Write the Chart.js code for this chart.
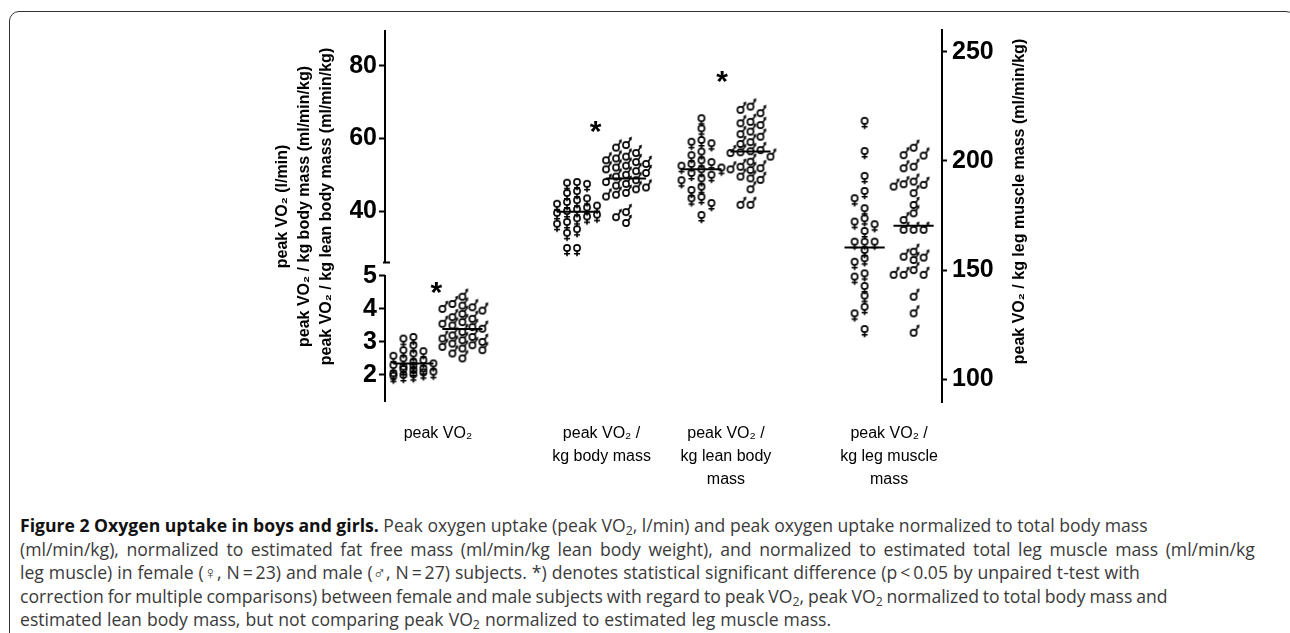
<!DOCTYPE html>
<html>
<head>
<meta charset="utf-8">
<script src="https://cdn.jsdelivr.net/npm/chart.js@4.4.0/dist/chart.umd.min.js"></script>
<style>
  html, body { margin: 0; padding: 0; background: #fff; }
  body { width: 1290px; height: 633px; overflow: hidden; position: relative; }
  #frame { position: absolute; left: 9px; top: 11px; width: 1287px; height: 700px;
           border: 1.5px solid #333; border-radius: 10px; box-sizing: border-box; }
  #wrap { position: absolute; left: 0; top: 0; width: 1290px; height: 500px; }
  #caption { position: absolute; left: 20px; top: 514px; font-family: 'Open Sans', sans-serif;
             font-size: 17.6px; line-height: 23.5px; color: #3a3a3a; white-space: nowrap; }
  #caption b { color: #111; }
  #caption sub { font-size: 70%; line-height: 0; vertical-align: -0.25em; }
</style>
</head>
<body>
<div id="frame"></div>
<div id="wrap"><canvas id="myChart"></canvas></div>
<div id="caption">
<span><b>Figure 2 Oxygen uptake in boys and girls.</b> Peak oxygen uptake (peak VO<sub>2</sub>, l/min) and peak oxygen uptake normalized to total body mass</span><br>
<span style="word-spacing:3px">(ml/min/kg), normalized to estimated fat free mass (ml/min/kg lean body weight), and normalized to estimated total leg muscle mass (ml/min/kg</span><br>
<span style="word-spacing:0.4px">leg muscle) in female (♀, N&thinsp;=&thinsp;23) and male (♂, N&thinsp;=&thinsp;27) subjects. *) denotes statistical significant difference (p&thinsp;&lt;&thinsp;0.05 by unpaired t-test with</span><br>
<span style="word-spacing:-0.7px">correction for multiple comparisons) between female and male subjects with regard to peak VO<sub>2</sub>, peak VO<sub>2</sub> normalized to total body mass and</span><br>
<span style="word-spacing:0.5px">estimated lean body mass, but not comparing peak VO<sub>2</sub> normalized to estimated leg muscle mass.</span>
</div>
<script>
// category labels (bottom)
const categories = [
  ['peak VO₂'],
  ['peak VO₂ /', 'kg body mass'],
  ['peak VO₂ /', 'kg lean body', 'mass'],
  ['peak VO₂ /', 'kg leg muscle', 'mass']
];

// values, girls (N=23) and boys (N=27)
const femalePeak = [3.15, 3.1, 2.9, 2.75, 2.72, 2.65, 2.58, 2.5, 2.45, 2.4, 2.35, 2.3, 2.28, 2.25, 2.2, 2.18, 2.15, 2.1, 2.08, 2.05, 2.02, 2.0, 1.98];
const malePeak = [4.37, 4.15, 4.1, 4.05, 4.0, 3.95, 3.85, 3.75, 3.7, 3.6, 3.55, 3.5, 3.45, 3.4, 3.3, 3.2, 3.15, 3.1, 3.05, 3.0, 2.95, 2.9, 2.85, 2.8, 2.75, 2.65, 2.5];
const femaleBody = [48.0, 47.5, 47.8, 45.5, 45.0, 43.5, 43.0, 42.5, 42.0, 41.5, 41.0, 40.5, 40.0, 39.5, 39.0, 38.5, 38.0, 37.0, 36.5, 35.0, 34.0, 29.8, 29.8];
const maleBody = [58.2, 57.5, 56.0, 55.0, 54.5, 54.0, 53.5, 53.0, 52.5, 52.0, 51.5, 51.0, 50.5, 50.0, 49.5, 48.5, 48.0, 47.5, 47.0, 46.5, 46.0, 45.0, 44.5, 44.0, 39.7, 38.3, 36.7];
const femaleLean = [65.6, 62.8, 59.6, 59.1, 58.7, 56.4, 55.4, 54.0, 53.5, 53.0, 52.5, 52.0, 51.5, 50.5, 50.0, 49.0, 48.5, 46.7, 45.8, 43.9, 43.5, 42.2, 38.9];
const maleLean = [68.8, 67.9, 67.0, 64.6, 64.2, 63.7, 61.9, 61.2, 60.5, 59.0, 58.5, 56.8, 56.5, 56.2, 56.0, 55.0, 53.6, 52.2, 51.8, 51.5, 51.3, 49.5, 49.0, 48.6, 46.0, 41.7, 41.7];
const femaleLeg = [218.3, 204.5, 193.1, 186.2, 182.9, 178.3, 173.7, 172.2, 171.0, 167.9, 163.0, 163.0, 163.0, 159.2, 155.4, 153.8, 148.5, 147.0, 142.7, 138.3, 133.2, 130.2, 123.0];
const maleLeg = [206.0, 202.6, 202.4, 197.3, 196.6, 190.5, 189.3, 189.0, 188.2, 185.2, 179.8, 176.0, 172.9, 168.4, 168.4, 168.4, 158.4, 156.1, 155.7, 154.6, 150.0, 147.8, 147.8, 147.8, 137.8, 130.2, 121.3];

const femaleMeans = [2.35, 39.8, 51.5, 160.3];
const maleMeans = [3.39, 49.0, 56.4, 170.3];
const starValues = [4.64, 63.2, 77, null];  // '*' = significant difference

// axis ticks
const ticksLow = [2, 3, 4, 5];
const ticksHigh = [40, 60, 80];
const ticksRight = [100, 150, 200, 250];

// layout
const groupX = [1.08, 4.42, 6.96, 10.29];
const starX = [1.05, 4.3, 6.88, null];
const axisOf = ['yBot', 'yTop', 'yTop', 'yRight'];
const pxPer = { yBot: 33, yTop: 3.625, yRight: 2.184 };
const xPx = 49;

const femaleData = [femalePeak, femaleBody, femaleLean, femaleLeg];
const maleData = [malePeak, maleBody, maleLean, maleLeg];

function makeSymbol(male) {
  const c = document.createElement('canvas');
  c.width = 16; c.height = 24;
  const g = c.getContext('2d');
  g.strokeStyle = '#000'; g.fillStyle = '#000'; g.lineWidth = 1.6;
  const cx = 8, cy = 12, r = 3.1;
  g.beginPath(); g.arc(cx, cy, r, 0, Math.PI * 2); g.stroke();
  if (male) {
    g.beginPath(); g.moveTo(cx + r * 0.7, cy - r * 0.7); g.lineTo(cx + 4.6, cy - 6.4); g.stroke();
    g.beginPath(); g.moveTo(cx + 5.8, cy - 8.6); g.lineTo(cx + 2.4, cy - 7.0); g.lineTo(cx + 5.4, cy - 4.6); g.closePath(); g.fill();
  } else {
    g.beginPath();
    g.moveTo(cx, cy + r); g.lineTo(cx, cy + r + 5.2);
    g.moveTo(cx - 3, cy + r + 2.6); g.lineTo(cx + 3, cy + r + 2.6);
    g.stroke();
  }
  return c;
}
const femaleImg = makeSymbol(false);
const maleImg = makeSymbol(true);

// simple beeswarm: spread points sideways where they collide
function swarm(values, center, perUnit) {
  const cands = [0, -5, 5, -10, 10, -15, 15, -20, 20];
  const placed = [];
  const out = new Array(values.length);
  const order = values.map((v, i) => i).sort((a, b) => values[b] - values[a]);
  order.forEach(i => {
    const py = values[i] * perUnit;
    let best = 0, bestHits = Infinity;
    for (const dx of cands) {
      const hits = placed.filter(p => Math.abs(p.dx - dx) < 7 && Math.abs(p.py - py) < 8).length;
      if (hits < bestHits) { best = dx; bestHits = hits; }
      if (hits === 0) break;
    }
    placed.push({ dx: best, py });
    out[i] = { x: center + best / xPx, y: values[i] };
  });
  return out;
}

const datasets = [];
categories.forEach((cat, c) => {
  const ax = axisOf[c];
  const fx = groupX[c] - 0.5, mx = groupX[c] + 0.5;
  datasets.push({ label: 'female', data: swarm(femaleData[c], fx, pxPer[ax]), yAxisID: ax,
                  pointStyle: femaleImg, pointRadius: 5 });
  datasets.push({ label: 'male', data: swarm(maleData[c], mx, pxPer[ax]), yAxisID: ax,
                  pointStyle: maleImg, pointRadius: 5 });
  datasets.push({ label: 'female mean', data: [{ x: fx - 0.41, y: femaleMeans[c] }, { x: fx + 0.41, y: femaleMeans[c] }],
                  yAxisID: ax, showLine: true, borderColor: '#000', borderWidth: 2, pointRadius: 0 });
  datasets.push({ label: 'male mean', data: [{ x: mx - 0.41, y: maleMeans[c] }, { x: mx + 0.41, y: maleMeans[c] }],
                  yAxisID: ax, showLine: true, borderColor: '#000', borderWidth: 2, pointRadius: 0 });
});

const FONT = "'Liberation Sans', Arial, sans-serif";
Chart.defaults.font.family = FONT;
Chart.defaults.color = '#000';

const tickFont = { size: 25, weight: 'bold' };
const tickGrid = { drawOnChartArea: false, drawTicks: true, tickLength: 6, tickWidth: 2, color: '#000' };

const extras = {
  id: 'extras',
  afterDraw(chart) {
    const { ctx, chartArea, scales } = chart;
    const top = scales.yTop, bot = scales.yBot, x = scales.x;
    ctx.save();
    ctx.strokeStyle = '#000';
    ctx.lineWidth = 2;
    // broken left axis
    const ax = top.right;
    const brk = top.getPixelForValue(25.8);
    ctx.beginPath();
    ctx.moveTo(ax, top.top); ctx.lineTo(ax, brk);
    ctx.moveTo(ax - 2, brk); ctx.lineTo(ax + 5, brk);
    ctx.moveTo(ax, bot.getPixelForValue(5.03)); ctx.lineTo(ax, bot.bottom);
    ctx.stroke();

    // asterisks
    ctx.fillStyle = '#000';
    ctx.font = 'bold 30px ' + FONT;
    ctx.textAlign = 'center';
    ctx.textBaseline = 'alphabetic';
    const m = ctx.measureText('*');
    const shift = (m.actualBoundingBoxAscent - m.actualBoundingBoxDescent) / 2;
    starValues.forEach((v, c) => {
      if (v === null) return;
      const s = scales[axisOf[c]];
      ctx.fillText('*', x.getPixelForValue(starX[c]), s.getPixelForValue(v) + shift);
    });

    // axis titles
    ctx.font = 'bold 16px ' + FONT;
    ctx.textBaseline = 'middle';
    const leftTitle = ['peak VO₂ (l/min)', 'peak VO₂ / kg body mass (ml/min/kg)', 'peak VO₂ / kg lean body mass (ml/min/kg)'];
    const midY = (chartArea.top + chartArea.bottom) / 2;
    leftTitle.forEach((t, i) => {
      ctx.save();
      ctx.translate(chartArea.left - 102 + i * 21.7, midY - 9.5);
      ctx.rotate(-Math.PI / 2);
      ctx.fillText(t, 0, 0);
      ctx.restore();
    });
    ctx.save();
    ctx.translate(chartArea.right + 78, midY - 14.5);
    ctx.rotate(-Math.PI / 2);
    ctx.fillText('peak VO₂ / kg leg muscle mass (ml/min/kg)', 0, 0);
    ctx.restore();
    ctx.restore();
  }
};

const ctx = document.getElementById('myChart').getContext('2d');
const myChart = new Chart(ctx, {
  type: 'scatter',
  data: { datasets },
  options: {
    responsive: true,
    maintainAspectRatio: false,
    animation: false,
    layout: { padding: { left: 350, right: 248, top: 30, bottom: 8 } },
    plugins: { legend: { display: false }, tooltip: { enabled: false } },
    scales: {
      x: {
        type: 'linear', min: 0, max: 11.37, bounds: 'data',
        grid: { display: false }, border: { display: false },
        afterBuildTicks: s => { s.ticks = groupX.map(v => ({ value: v })); },
        afterFit: s => { s.height = 90; },
        ticks: { autoSkip: false, maxRotation: 0, padding: 12.5,
                 font: { size: 16, lineHeight: 23 / 16 },
                 callback: (v, i) => categories[i] }
      },
      yTop: {
        type: 'linear', position: 'left', stack: 'left', stackWeight: 236, weight: 2,
        min: 24.83, max: 89.93, bounds: 'data',
        grid: tickGrid, border: { display: false },
        afterBuildTicks: s => { s.ticks = ticksHigh.map(v => ({ value: v })); },
        afterFit: s => { s.width = 35; },
        ticks: { font: tickFont, padding: 2, autoSkip: false }
      },
      yBot: {
        type: 'linear', position: 'left', stack: 'left', stackWeight: 136, weight: 1,
        min: 1.18, max: 5.30, bounds: 'data',
        grid: tickGrid, border: { display: false },
        afterBuildTicks: s => { s.ticks = ticksLow.map(v => ({ value: v })); },
        afterFit: s => { s.width = 35; },
        ticks: { font: tickFont, padding: 2, autoSkip: false }
      },
      yRight: {
        type: 'linear', position: 'right', min: 89.6, max: 259.9, bounds: 'data',
        grid: Object.assign({}, tickGrid, { tickLength: 5 }),
        border: { display: true, color: '#000', width: 2 },
        afterBuildTicks: s => { s.ticks = ticksRight.map(v => ({ value: v })); },
        afterFit: s => { s.width = 100; },
        ticks: { font: tickFont, padding: 5, autoSkip: false }
      }
    }
  },
  plugins: [extras]
});
</script>
</body>
</html>
